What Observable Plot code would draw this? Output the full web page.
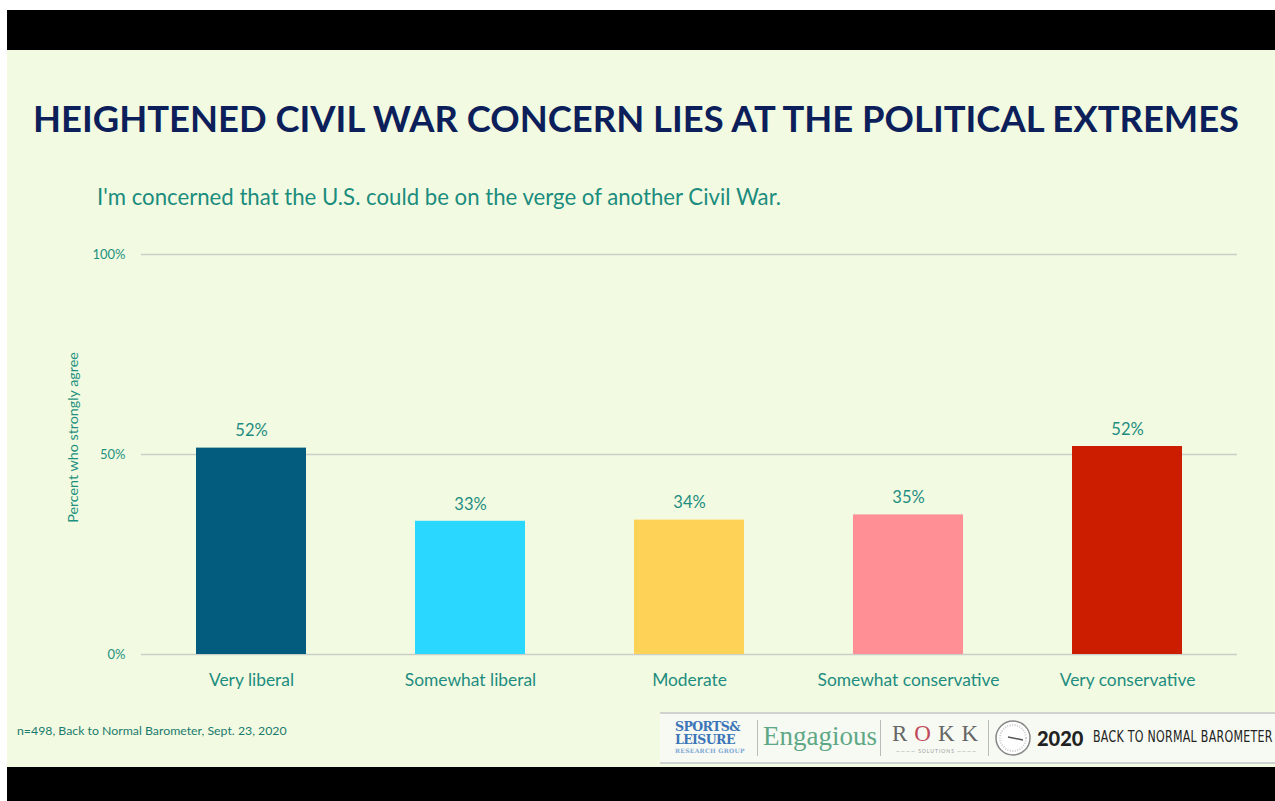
<!DOCTYPE html>
<html>
<head>
<meta charset="utf-8">
<script src="https://cdn.jsdelivr.net/npm/d3@7"></script>
<script src="https://cdn.jsdelivr.net/npm/@observablehq/plot@0.6"></script>
<style>
  html, body { margin: 0; padding: 0; width: 1275px; height: 801px; overflow: hidden; background: #ffffff; font-family: Lato, "Open Sans", sans-serif; }
  #topbar { position: absolute; left: 7px; top: 10px; width: 1268px; height: 40px; background: #000; }
  #botbar { position: absolute; left: 7px; top: 767px; width: 1268px; height: 34px; background: #000; }
  #slide { position: absolute; left: 7px; top: 50px; width: 1268px; height: 717px; background: #f2fbe1; }
  #title { position: absolute; left: 33px; top: 96px; font-weight: 700; font-size: 36.4px; color: #0c1f5a; white-space: nowrap; }
  #subtitle { position: absolute; left: 97px; top: 183px; font-size: 22.2px; color: #1b8c7e; white-space: nowrap; }
  #chart { position: absolute; left: 0; top: 230px; }
  #note { position: absolute; left: 17px; top: 723px; font-size: 12.3px; color: #1a7a6e; white-space: nowrap; }
  #logos { position: absolute; left: 660px; top: 712px; width: 615px; height: 48px; background: #f7faf3; border-top: 2px solid #cfd3cf; border-bottom: 2px solid #cfd3cf; }
  #logos > * { position: absolute; }
  .sep { width: 1px; height: 36px; top: 6px; background: #bbb; }
  .sl { left: 15px; top: 6px; font-family: "DejaVu Serif", serif; font-weight: 700; color: #3d76b8; }
  .sl .a { font-size: 12.5px; line-height: 13px; letter-spacing: -0.6px; }
  .sl .b { font-size: 6px; color: #7fa8d6; line-height: 9px; letter-spacing: 0.3px; }
  .eng { left: 103px; top: 7px; font-family: "Liberation Serif", serif; font-size: 27px; color: #5fa886; white-space: nowrap; }
  .rokk { left: 232px; top: 9px; font-family: "Liberation Serif", serif; font-size: 23px; color: #666; letter-spacing: 7px; line-height: 22px; white-space: nowrap; }
  .rokk .o { color: #c04a5a; }
  .sol { left: 236px; top: 34px; font-size: 5px; line-height: 6px; color: #999; letter-spacing: 1px; white-space: nowrap; }
  .gauge { left: 334px; top: 5px; }
  .y2020 { left: 377px; top: 12px; font-family: Lato, sans-serif; font-size: 20px; font-weight: 900; color: #222; white-space: nowrap; }
  .btn { left: 433px; top: 13px; font-family: "DejaVu Sans", sans-serif; font-size: 16px; color: #222; white-space: nowrap; transform-origin: 0 0; transform: scaleX(0.69); letter-spacing: 0.4px; }
</style>
</head>
<body>
<div id="topbar"></div>
<div id="slide"></div>
<div id="botbar"></div>
<div id="title">HEIGHTENED CIVIL WAR CONCERN LIES AT THE POLITICAL EXTREMES</div>
<div id="subtitle">I'm concerned that the U.S. could be on the verge of another Civil War.</div>
<div id="chart"></div>
<div id="note">n=498, Back to Normal Barometer, Sept. 23, 2020</div>
<div id="logos">
  <div class="sl"><div class="a">SPORTS&amp;</div><div class="a">LEISURE</div><div class="b">RESEARCH GROUP</div></div>
  <div class="sep" style="left:97px"></div>
  <div class="eng">Engagious</div>
  <div class="sep" style="left:220px"></div>
  <div class="rokk">R<span class="o">O</span>KK</div>
  <div class="sol">———— SOLUTIONS ————</div>
  <div class="sep" style="left:328px"></div>
  <svg class="gauge" width="38" height="38" viewBox="0 0 38 38"><circle cx="19" cy="19" r="17" fill="#fff" stroke="#888" stroke-width="1.5"/><circle cx="19" cy="19" r="13" fill="none" stroke="#ccc" stroke-width="2" stroke-dasharray="1 1.5"/><line x1="14" y1="18" x2="29" y2="21" stroke="#555" stroke-width="1.5"/></svg>
  <div class="y2020">2020</div>
  <div class="btn">BACK TO NORMAL BAROMETER</div>
</div>
<script>
const categories = ["Very liberal", "Somewhat liberal", "Moderate", "Somewhat conservative", "Very conservative"];
const values = [51.6, 33.3, 33.6, 34.9, 52.0];
const valueLabels = ["52%", "33%", "34%", "35%", "52%"];
const barColors = ["#035c7d", "#2ad8ff", "#fed257", "#ff8f95", "#cd1d00"];
const yTicks = [0, 50, 100];
const yTickLabels = ["0%", "50%", "100%"];
const yLabel = "Percent who strongly agree";

const data = categories.map((c, i) => ({cat: c, v: values[i], lab: valueLabels[i], col: barColors[i]}));
const fmtY = (d) => yTickLabels[yTicks.indexOf(d)];

const plot = Plot.plot({
  width: 1275,
  height: 480,
  marginLeft: 141,
  marginRight: 38,
  marginTop: 24,
  marginBottom: 56,
  style: { background: "transparent", fontFamily: "Lato, 'Open Sans', sans-serif", color: "#1e8f80" },
  x: { domain: categories, paddingInner: 0.5, paddingOuter: 0.25, label: null },
  y: { domain: [0, 100], label: null },
  marks: [
    Plot.gridY(yTicks, { stroke: "#c9cec9", strokeOpacity: 1, strokeWidth: 1.5 }),
    Plot.barY(data, { x: "cat", y: "v", fill: "col" }),
    Plot.text(data, { x: "cat", y: "v", text: "lab", dy: -17, fontSize: 16.5, fill: "#1e8c80" }),
    Plot.axisX({ tickSize: 0, tickPadding: 19, fontSize: 17.4, fill: "#1e8c80", label: null }),
    Plot.axisY({ ticks: yTicks, tickFormat: fmtY, tickSize: 0, tickPadding: 16, fontSize: 13, fill: "#1e9080", label: null }),
    Plot.text([yLabel], { frameAnchor: "left", text: d => d, rotate: -90, textAnchor: "middle", dx: -68, dy: -17, fontSize: 14.3, fill: "#1e9080" })
  ]
});
document.getElementById("chart").appendChild(plot);
</script>
</body>
</html>
